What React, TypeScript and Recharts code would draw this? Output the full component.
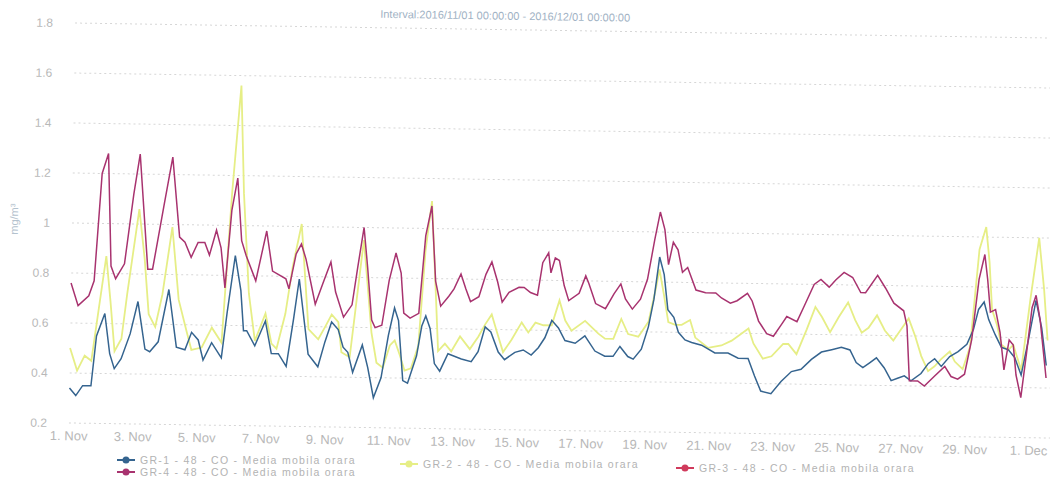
import { LineChart, Line, XAxis, YAxis, CartesianGrid } from "recharts"

// [day since 1 Nov, mg/m3]
const GR1: [number, number][] = [
  [0, 0.34], [0.2, 0.31], [0.41, 0.35], [0.67, 0.35], [0.82, 0.55], [1.07, 0.64], [1.24, 0.48], [1.39, 0.42], [1.6, 0.46], [1.87, 0.56],
  [2.1, 0.69], [2.34, 0.5], [2.49, 0.49], [2.75, 0.53], [3.06, 0.74], [3.32, 0.51], [3.59, 0.5], [3.79, 0.57], [4.0, 0.54], [4.16, 0.46],
  [4.42, 0.53], [4.73, 0.47], [4.89, 0.65], [5.12, 0.88], [5.31, 0.74], [5.41, 0.58], [5.51, 0.58], [5.77, 0.52], [6.09, 0.62], [6.29, 0.49],
  [6.51, 0.49], [6.76, 0.44], [6.97, 0.63], [7.13, 0.79], [7.44, 0.49], [7.75, 0.44], [7.96, 0.54], [8.16, 0.62], [8.37, 0.59], [8.53, 0.52],
  [8.68, 0.5], [8.84, 0.42], [9.13, 0.53], [9.31, 0.44], [9.5, 0.32], [9.73, 0.4], [9.94, 0.57], [10.12, 0.68], [10.25, 0.63], [10.41, 0.39],
  [10.56, 0.38], [10.83, 0.49], [10.98, 0.61], [11.1, 0.65], [11.24, 0.6], [11.39, 0.46], [11.56, 0.43], [11.81, 0.5], [12.23, 0.48], [12.54, 0.47],
  [12.75, 0.51], [12.96, 0.61], [13.14, 0.59], [13.38, 0.51], [13.58, 0.48], [13.9, 0.51], [14.16, 0.52], [14.41, 0.5], [14.63, 0.53], [14.83, 0.57],
  [15.04, 0.64], [15.25, 0.61], [15.46, 0.56], [15.78, 0.55], [16.08, 0.58], [16.4, 0.52], [16.71, 0.5], [16.97, 0.5], [17.18, 0.54], [17.43, 0.5],
  [17.6, 0.49], [17.85, 0.53], [18.06, 0.62], [18.22, 0.73], [18.38, 0.9], [18.53, 0.83], [18.66, 0.69], [18.85, 0.66], [19.0, 0.6], [19.21, 0.57],
  [19.42, 0.56], [19.73, 0.55], [20.15, 0.52], [20.56, 0.52], [20.88, 0.5], [21.19, 0.5], [21.4, 0.43], [21.6, 0.37], [21.92, 0.36], [22.23, 0.41],
  [22.55, 0.45], [22.85, 0.46], [23.17, 0.5], [23.48, 0.53], [23.8, 0.54], [24.1, 0.55], [24.37, 0.54], [24.57, 0.49], [24.78, 0.47], [24.99, 0.49],
  [25.2, 0.51], [25.45, 0.47], [25.67, 0.42], [25.87, 0.43], [26.08, 0.44], [26.29, 0.42], [26.6, 0.45], [26.82, 0.49], [27.02, 0.51], [27.23, 0.48],
  [27.49, 0.52], [27.75, 0.54], [28.02, 0.57], [28.22, 0.63], [28.37, 0.71], [28.54, 0.74], [28.69, 0.67], [28.9, 0.61], [29.1, 0.56], [29.32, 0.55],
  [29.52, 0.52], [29.73, 0.45], [29.94, 0.59], [30.16, 0.75], [30.35, 0.64], [30.51, 0.49],
]

const GR2: [number, number][] = [
  [0, 0.5], [0.23, 0.41], [0.46, 0.47], [0.67, 0.45], [0.87, 0.65], [1.09, 0.87], [1.24, 0.69], [1.39, 0.49], [1.6, 0.54], [1.76, 0.72],
  [2.1, 1.06], [2.29, 0.86], [2.44, 0.64], [2.65, 0.59], [2.86, 0.72], [3.14, 0.99], [3.37, 0.7], [3.64, 0.57], [3.79, 0.5], [4.11, 0.51],
  [4.42, 0.59], [4.73, 0.53], [4.99, 1.13], [5.23, 1.56], [5.36, 1.13], [5.56, 0.73], [5.77, 0.54], [6.09, 0.65], [6.29, 0.53], [6.45, 0.51],
  [6.71, 0.65], [6.92, 0.84], [7.18, 1.01], [7.44, 0.59], [7.75, 0.55], [7.96, 0.6], [8.16, 0.65], [8.37, 0.62], [8.48, 0.5], [8.74, 0.48],
  [8.89, 0.66], [9.13, 0.95], [9.26, 0.78], [9.41, 0.58], [9.58, 0.46], [9.78, 0.44], [9.99, 0.53], [10.14, 0.55], [10.31, 0.49], [10.46, 0.43],
  [10.66, 0.44], [10.88, 0.53], [11.06, 0.91], [11.24, 1.11], [11.39, 0.77], [11.5, 0.51], [11.71, 0.54], [11.91, 0.51], [12.18, 0.57], [12.49, 0.52],
  [12.75, 0.57], [12.96, 0.62], [13.16, 0.66], [13.33, 0.59], [13.53, 0.51], [13.79, 0.56], [14.1, 0.63], [14.31, 0.59], [14.53, 0.63], [14.78, 0.62],
  [15.04, 0.62], [15.27, 0.72], [15.46, 0.64], [15.66, 0.6], [16.08, 0.64], [16.5, 0.59], [16.71, 0.57], [16.97, 0.57], [17.21, 0.65], [17.43, 0.59],
  [17.75, 0.58], [18.06, 0.64], [18.27, 0.77], [18.38, 0.85], [18.53, 0.75], [18.68, 0.64], [18.9, 0.63], [19.1, 0.63], [19.36, 0.65], [19.53, 0.58],
  [19.93, 0.54], [20.35, 0.55], [20.67, 0.57], [21.19, 0.62], [21.35, 0.56], [21.65, 0.5], [21.92, 0.51], [22.28, 0.56], [22.44, 0.56], [22.7, 0.52],
  [23.01, 0.62], [23.27, 0.71], [23.48, 0.67], [23.74, 0.61], [24.0, 0.67], [24.29, 0.73], [24.52, 0.66], [24.73, 0.61], [24.94, 0.63], [25.2, 0.68],
  [25.45, 0.62], [25.72, 0.58], [25.98, 0.63], [26.19, 0.67], [26.4, 0.6], [26.6, 0.52], [26.82, 0.46], [27.02, 0.48], [27.23, 0.51], [27.49, 0.54],
  [27.65, 0.5], [27.9, 0.47], [28.12, 0.56], [28.37, 0.95], [28.57, 1.04], [28.69, 0.9], [28.79, 0.71], [28.95, 0.65], [29.1, 0.57], [29.32, 0.55],
  [29.47, 0.57], [29.73, 0.47], [29.99, 0.76], [30.23, 1.0], [30.41, 0.79], [30.54, 0.59],
]

const GR4: [number, number][] = [
  [0, 0.76], [0.23, 0.67], [0.56, 0.71], [0.72, 0.77], [0.92, 1.2], [1.11, 1.28], [1.24, 0.83], [1.39, 0.78], [1.66, 0.84], [1.92, 1.12],
  [2.1, 1.28], [2.39, 0.82], [2.54, 0.82], [2.86, 1.07], [3.12, 1.27], [3.37, 0.95], [3.54, 0.93], [3.74, 0.87], [3.95, 0.93], [4.16, 0.93],
  [4.31, 0.88], [4.52, 0.98], [4.67, 0.91], [4.81, 0.75], [4.99, 1.06], [5.16, 1.19], [5.31, 0.94], [5.46, 0.88], [5.77, 0.78], [6.09, 0.98],
  [6.29, 0.82], [6.71, 0.79], [6.81, 0.75], [7.02, 0.89], [7.18, 0.93], [7.33, 0.87], [7.64, 0.69], [7.86, 0.77], [8.11, 0.86], [8.27, 0.74],
  [8.53, 0.64], [8.79, 0.69], [8.95, 0.84], [9.13, 1.0], [9.26, 0.84], [9.41, 0.63], [9.52, 0.6], [9.73, 0.61], [9.94, 0.79], [10.14, 0.9],
  [10.31, 0.82], [10.41, 0.66], [10.61, 0.64], [10.88, 0.66], [11.06, 0.97], [11.24, 1.09], [11.39, 0.79], [11.56, 0.69], [11.81, 0.73], [11.97, 0.76],
  [12.18, 0.82], [12.34, 0.76], [12.49, 0.71], [12.75, 0.73], [12.96, 0.82], [13.14, 0.87], [13.33, 0.79], [13.48, 0.71], [13.69, 0.75], [14.0, 0.77],
  [14.16, 0.77], [14.36, 0.75], [14.58, 0.74], [14.73, 0.87], [14.91, 0.91], [14.99, 0.83], [15.12, 0.89], [15.25, 0.88], [15.41, 0.78], [15.56, 0.72],
  [15.88, 0.75], [16.08, 0.82], [16.18, 0.79], [16.4, 0.71], [16.71, 0.69], [16.97, 0.75], [17.18, 0.79], [17.33, 0.73], [17.55, 0.69], [17.8, 0.73],
  [18.01, 0.81], [18.22, 0.97], [18.38, 1.08], [18.53, 1.01], [18.66, 0.87], [18.8, 0.96], [18.95, 0.93], [19.1, 0.84], [19.26, 0.86], [19.53, 0.77],
  [19.83, 0.76], [20.15, 0.76], [20.33, 0.74], [20.61, 0.72], [20.82, 0.73], [21.14, 0.76], [21.29, 0.73], [21.5, 0.65], [21.76, 0.6], [21.97, 0.59],
  [22.23, 0.64], [22.38, 0.67], [22.7, 0.65], [22.91, 0.71], [23.22, 0.8], [23.43, 0.82], [23.69, 0.79], [23.9, 0.82], [24.15, 0.85], [24.42, 0.83],
  [24.68, 0.77], [24.83, 0.77], [25.2, 0.84], [25.45, 0.79], [25.72, 0.73], [26.03, 0.7], [26.14, 0.64], [26.24, 0.42], [26.5, 0.42], [26.71, 0.4],
  [27.02, 0.44], [27.34, 0.48], [27.54, 0.44], [27.75, 0.43], [27.96, 0.45], [28.17, 0.59], [28.37, 0.83], [28.54, 0.93], [28.64, 0.83], [28.74, 0.7],
  [28.9, 0.71], [29.05, 0.62], [29.19, 0.47], [29.34, 0.59], [29.47, 0.57], [29.57, 0.45], [29.73, 0.36], [29.89, 0.54], [30.04, 0.72], [30.16, 0.77],
  [30.3, 0.67], [30.51, 0.44],
]

const X_TICKS = [0, 2, 4, 6, 8, 10, 12, 14, 16, 18, 20, 22, 24, 26, 28, 30]
const X_LABELS = ["1. Nov", "3. Nov", "5. Nov", "7. Nov", "9. Nov", "11. Nov", "13. Nov", "15. Nov", "17. Nov", "19. Nov", "21. Nov", "23. Nov", "25. Nov", "27. Nov", "29. Nov", "1. Dec"]
const Y_TICKS = [0.2, 0.4, 0.6, 0.8, 1, 1.2, 1.4, 1.6, 1.8]

// legend sits on the same slightly tilted scan, hence the stepped y
const LEGEND = [
  { name: "GR-1 - 48 - CO - Media mobila orara", color: "#35648f", x: 117, y: 460 },
  { name: "GR-2 - 48 - CO - Media mobila orara", color: "#e6ee86", x: 400, y: 464 },
  { name: "GR-3 - 48 - CO - Media mobila orara", color: "#d03a5c", x: 676, y: 468 },
  { name: "GR-4 - 48 - CO - Media mobila orara", color: "#a8336f", x: 117, y: 472 },
]

const toPts = (arr: [number, number][]) => arr.map(([d, v]) => ({ d, v }))
const FONT = "'Liberation Sans', Arial, sans-serif"

export default function App() {
  return (
    <div style={{ position: "absolute", left: 0, top: 0, width: 1050, height: 478, overflow: "hidden", background: "#fff", fontFamily: FONT }}>
      <div style={{ position: "relative", width: 1100, height: 478, transform: "rotate(0.88deg)", transformOrigin: "72px 222px" }}>
        <div style={{ position: "absolute", left: 0, top: 3, width: 1004, textAlign: "center", fontSize: 11, color: "#9fb2c4" }}>
          Interval:2016/11/01 00:00:00 - 2016/12/01 00:00:00
        </div>
        <div style={{ position: "absolute", left: -6, top: 214, width: 40, textAlign: "center", fontSize: 11, color: "#b4c2ce", transform: "rotate(-90deg)" }}>
          mg/m³
        </div>
        <LineChart width={1100} height={478} margin={{ top: 23, right: 36, bottom: 25, left: 0 }} style={{ position: "absolute", left: 0, top: 0 }}>
          <CartesianGrid vertical={false} stroke="#d6d6d6" strokeDasharray="2 3" />
          <XAxis type="number" dataKey="d" domain={[0, 31]} ticks={X_TICKS} tickFormatter={(t: number) => X_LABELS[X_TICKS.indexOf(t)] ?? ""}
            axisLine={false} tickLine={false} height={30} tick={{ fill: "#b8b8b8", fontSize: 13, fontFamily: FONT }} />
          <YAxis type="number" domain={[0.2, 1.8]} ticks={Y_TICKS} width={72} axisLine={false} tickLine={false} tickSize={0} tickMargin={22}
            tick={{ fill: "#b8b8b8", fontSize: 12, fontFamily: FONT }} />
          <Line data={toPts(GR2)} dataKey="v" type="linear" stroke="#e6ee86" strokeWidth={1.8} dot={false} isAnimationActive={false} />
          <Line data={toPts(GR1)} dataKey="v" type="linear" stroke="#35648f" strokeWidth={1.5} dot={false} isAnimationActive={false} />
          <Line data={toPts(GR4)} dataKey="v" type="linear" stroke="#a8336f" strokeWidth={1.5} dot={false} isAnimationActive={false} />
        </LineChart>
      </div>
      {LEGEND.map((l) => (
        <div key={l.name} style={{ position: "absolute", left: l.x, top: l.y - 5.5, height: 11, lineHeight: "11px", display: "flex", alignItems: "center", fontSize: 10.5, letterSpacing: 1.3, color: "#b3b3b3", whiteSpace: "nowrap" }}>
          <svg width={18} height={10} style={{ marginRight: 5 }}>
            <line x1={0} y1={5} x2={18} y2={5} stroke={l.color} strokeWidth={2} />
            <circle cx={9} cy={5} r={3.5} fill={l.color} />
          </svg>
          {l.name}
        </div>
      ))}
    </div>
  )
}
